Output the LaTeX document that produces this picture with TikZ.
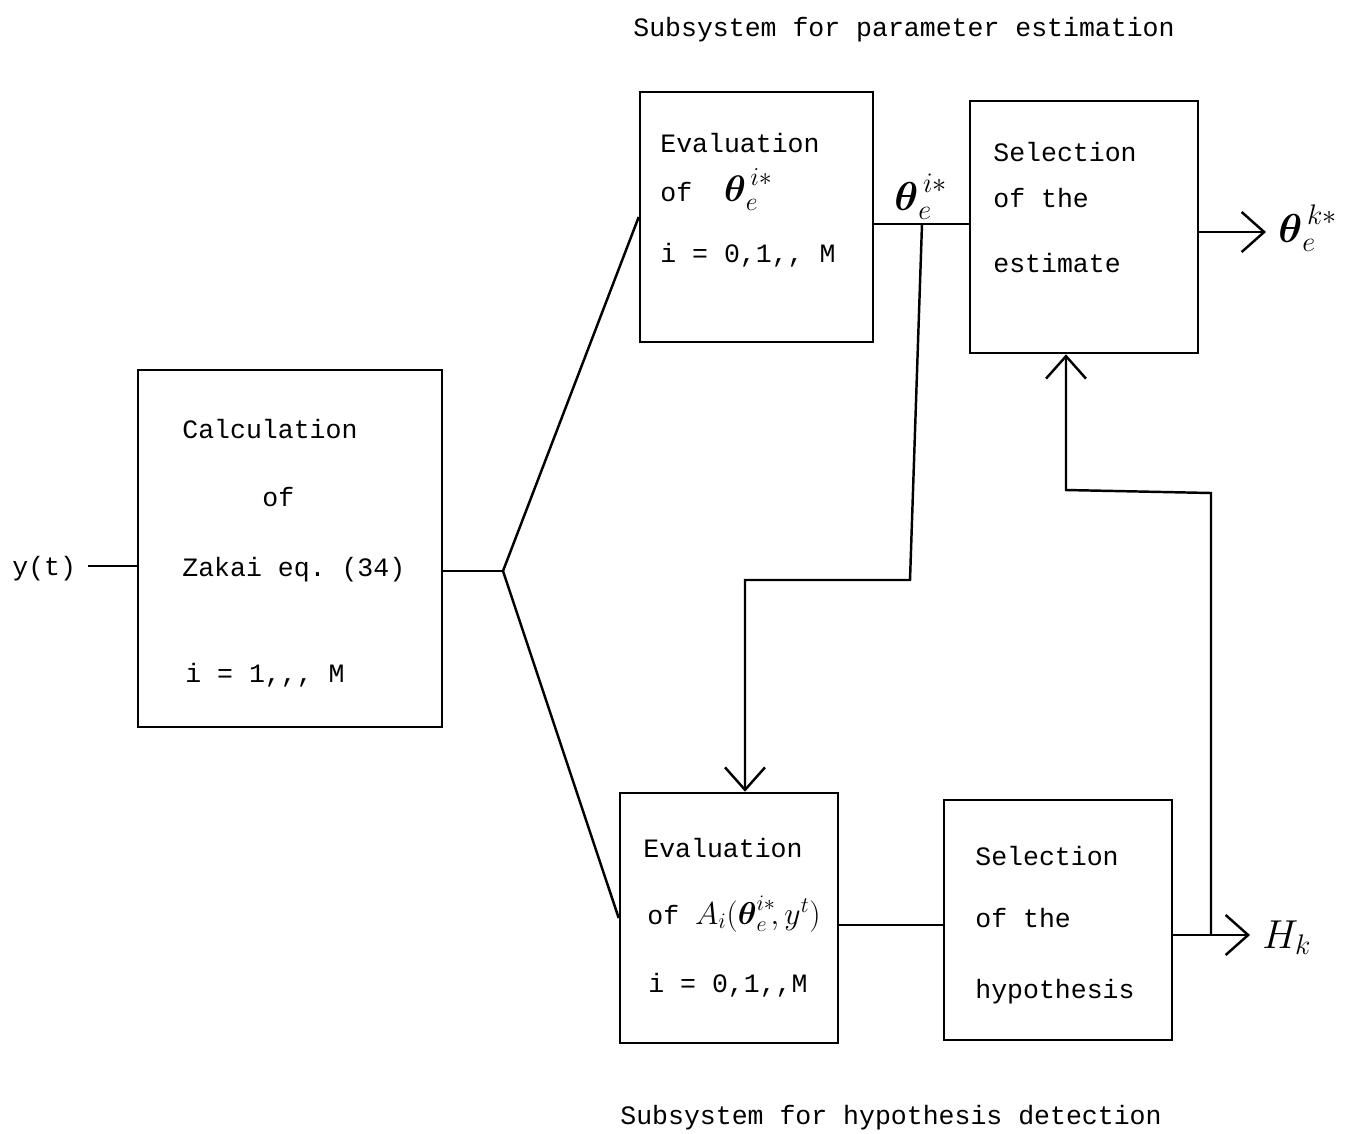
\RequirePackage{fix-cm}
\documentclass[tikz,border=0pt]{standalone}
\usepackage{amsmath,amssymb}
\usepackage{fontspec}
\setmonofont{Liberation Mono}
\usetikzlibrary{arrows.meta}
\newcommand{\handmath}[2][21]{{\fontsize{#1}{#1}\selectfont$#2$}}
\tikzset{
  blk/.style={draw, line width=1.5pt, minimum width=#1, inner sep=0pt},
  txt/.style={anchor=base west, inner sep=0pt, font=\ttfamily\fontsize{15.1}{17}\selectfont},
  conn/.style={line width=1.4pt},
  arr/.style={line width=1.4pt, -{Straight Barb[length=4.5mm,width=8mm,line width=1.4pt]}},
  hand/.style={anchor=base west, inner sep=0pt, font=\fontsize{23}{25}\selectfont}
}
\begin{document}
\begin{tikzpicture}[x=0.02cm,y=-0.02cm]
\useasboundingbox[fill=white] (0,0) rectangle (1345,1133);
% boxes
\node[blk=6.08cm, minimum height=7.14cm] (calc) at (290,548.5) {};
\node[blk=4.66cm, minimum height=5.0cm] (evalA) at (756.5,217) {};
\node[blk=4.56cm, minimum height=5.04cm] (selA) at (1084,227) {};
\node[blk=4.36cm, minimum height=5.0cm] (evalB) at (729,918) {};
\node[blk=4.56cm, minimum height=4.8cm] (selB) at (1058,920) {};
% titles
\node[txt] (titleA) at (633,36) {Subsystem for parameter estimation};
\node[txt] (titleB) at (620,1124) {Subsystem for hypothesis detection};
% calc text
\node[txt] (c1) at (182,438) {Calculation};
\node[txt] (c2) at (262,506) {of};
\node[txt] (c3) at (182,576) {Zakai eq. (34)};
\node[txt] (c4) at (185,682) {i = 1,,, M};
% eval A text
\node[txt] (a1) at (660,152) {Evaluation};
\node[txt] (a2) at (660,201) {of \ \handmath{\boldsymbol{\theta}_e^{\,i*}}};
\node[txt] (a3) at (660,262) {i = 0,1,, M};
% sel A text
\node[txt] (s1) at (993,161) {Selection};
\node[txt] (s2) at (993,207) {of the};
\node[txt] (s3) at (993,272) {estimate};
% eval B text
\node[txt] (b1) at (643,857) {Evaluation};
\node[txt] (b2) at (647,924) {of \handmath[18]{A_i(\boldsymbol{\theta}_e^{i*}\!, y^t)}};
\node[txt] (b3) at (648,992) {i = 0,1,,M};
% sel B text
\node[txt] (h1) at (975,865) {Selection};
\node[txt] (h2) at (975,927) {of the};
\node[txt] (h3) at (975,998) {hypothesis};
% input
\node[txt] (yt) at (12,575) {y(t)};
\coordinate (yin) at (88,566);
\draw[conn] (yin) -- (calc.west |- yin);
% branch
\coordinate (br) at (503,571);
\draw[conn] (calc.east |- br) -- (br);
\draw[conn] (br) -- (evalA.west);
\draw[conn] (br) -- (evalB.west);
% theta between boxes
\node[hand] (thA) at (894,210) {$\boldsymbol{\theta}_e^{\,i*}$};
\coordinate (ya) at (0,224);
\draw[conn] (evalA.east |- ya) -- (selA.west |- ya);
\coordinate (t1) at (922,224);
\coordinate (t2) at (910,580);
\coordinate (t3) at (745,580);
\draw[arr] (t1) -- (t2) -- (t3) -- (t3 |- evalB.north);
% output theta
\coordinate (yo) at (0,232);
\coordinate (oend) at (1266,232);
\draw[arr] (selA.east |- yo) -- (oend);
\node[hand] (thK) at (1278,242) {$\boldsymbol{\theta}_e^{\,k*}$};
% lower connections
\coordinate (yb) at (0,925);
\draw[conn] (evalB.east |- yb) -- (selB.west |- yb);
\coordinate (yh) at (0,935);
\coordinate (hend) at (1250,935);
\draw[arr] (selB.east |- yh) -- (hend);
\node[hand] (hk) at (1262,948) {$H_k$};
% feedback
\coordinate (f1) at (1211,935);
\coordinate (f2) at (1211,493);
\coordinate (f3) at (1066,490);
\draw[arr] (f1) -- (f2) -- (f3) -- (f3 |- selA.south);
\end{tikzpicture}
\end{document}
